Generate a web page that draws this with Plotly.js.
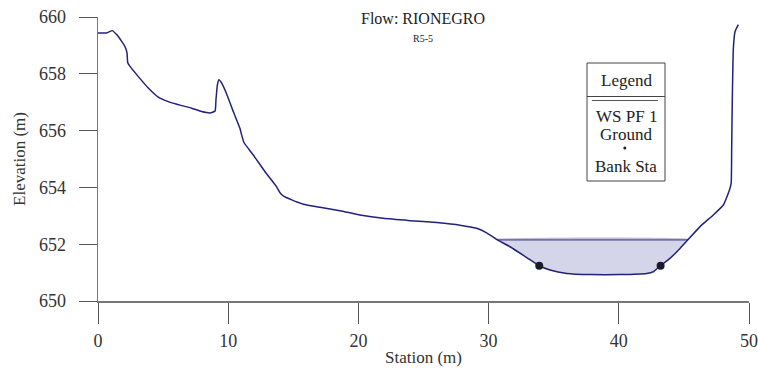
<!DOCTYPE html>
<html>
<head>
<meta charset="utf-8">
<script src="https://cdn.plot.ly/plotly-3.0.1.min.js"></script>
<style>html,body{margin:0;padding:0;background:#fff;}#chart{width:758px;height:371px;}</style>
</head>
<body>
<div id="chart"></div>
<script>
// ---- data ----
const groundStation = [0, 0.67, 1.10, 1.43, 1.82, 2.07, 2.23, 2.28, 2.46, 3.10, 3.86, 4.63, 5.40, 6.43, 7.19, 7.96, 8.60, 8.99, 9.06, 9.17, 9.29, 9.50, 9.88, 10.39, 10.90, 11.03, 11.21, 11.93, 12.83, 13.72, 13.98, 14.23, 14.88, 15.77, 17.05, 18.59, 20.12, 21.91, 23.96, 26.01, 27.80, 29.08, 29.85, 30.62, 31.64, 32.93, 33.89, 34.72, 36.00, 37.79, 40.09, 42.14, 42.65, 43.21, 43.93, 44.70, 46.24, 47.26, 48.03, 48.50, 48.63, 48.67, 48.72, 48.80, 48.93, 49.18];
const groundElev = [659.44, 659.44, 659.52, 659.38, 659.14, 658.96, 658.73, 658.40, 658.26, 657.90, 657.50, 657.18, 657.02, 656.88, 656.79, 656.67, 656.62, 656.69, 657.08, 657.61, 657.79, 657.67, 657.29, 656.67, 656.08, 655.85, 655.58, 655.14, 654.55, 654.02, 653.81, 653.70, 653.56, 653.41, 653.30, 653.18, 653.03, 652.91, 652.83, 652.76, 652.67, 652.56, 652.40, 652.17, 651.91, 651.53, 651.24, 651.09, 650.97, 650.93, 650.93, 650.97, 651.03, 651.24, 651.50, 651.85, 652.62, 653.03, 653.38, 653.91, 654.14, 655.38, 657.14, 658.91, 659.49, 659.73];
const wsElev = 652.16;              // WS PF 1
const bankStation = [33.89, 43.21];
const bankElev = [651.24, 651.24];
const xTicks = [0, 10, 20, 30, 40, 50];
const yTicks = [650, 652, 654, 656, 658, 660];
const legendLabels = ["WS PF 1", "Ground", "Bank Sta"];
const titleText = "Flow: RIONEGRO";
const subtitleText = "R5-5";

// ---- water polygon (ground below WS, closed by WS line) ----
const polyX = [], polyY = [];
for (let i = 0; i < groundStation.length - 1; i++) {
  const x0 = groundStation[i], y0 = groundElev[i], x1 = groundStation[i+1], y1 = groundElev[i+1];
  if (y0 <= wsElev) { polyX.push(x0); polyY.push(y0); }
  if ((y0 - wsElev) * (y1 - wsElev) < 0) {
    const t = (wsElev - y0) / (y1 - y0);
    polyX.push(x0 + t * (x1 - x0)); polyY.push(wsElev);
  }
}
const wsX = [polyX[0], polyX[polyX.length - 1]];
const wsY = [wsElev, wsElev];
polyX.push(polyX[0]); polyY.push(polyY[0]);

const navy = '#22227a';
const traces = [
  {x: polyX, y: polyY, mode: 'lines', fill: 'toself', fillcolor: '#d5d5e9', line: {width: 0, shape: 'spline', smoothing: 0.4}, hoverinfo: 'skip', showlegend: false},
  {x: wsX, y: wsY, mode: 'lines', line: {color: '#7474aa', width: 2}, name: legendLabels[0], showlegend: false},
  {x: groundStation, y: groundElev, mode: 'lines', line: {color: navy, width: 1.5, shape: 'spline', smoothing: 0.4}, name: legendLabels[1], showlegend: false},
  {x: bankStation, y: bankElev, mode: 'markers', marker: {color: '#1a1a2a', size: 8}, name: legendLabels[2], showlegend: false}
];

// pixel -> paper helpers for the hand-drawn legend box and titles
const L = 98, R = 9, T = 17, B = 70, W = 758, H = 371;
const pw = W - L - R, ph = H - T - B;
const px = x => (x - L) / pw;
const py = y => (H - B - y) / ph;
const font = 'Liberation Serif, DejaVu Serif, serif';

const shapes = [
  {type: 'rect', xref: 'paper', yref: 'paper', x0: px(587), x1: px(665), y0: py(63), y1: py(181), line: {color: '#444', width: 1}, fillcolor: '#fff', layer: 'above'},
  {type: 'line', xref: 'paper', yref: 'paper', x0: px(587), x1: px(665), y0: py(96.5), y1: py(96.5), line: {color: '#444', width: 1}},
  {type: 'line', xref: 'paper', yref: 'paper', x0: px(592), x1: px(658), y0: py(100.5), y1: py(100.5), line: {color: '#555', width: 1}},
  {type: 'circle', xref: 'paper', yref: 'paper', x0: px(623.3), x1: px(626.3), y0: py(146.5), y1: py(149.5), line: {color: '#1a1a2a', width: 0}, fillcolor: '#1a1a2a'}
];
const ann = (text, x, y, size) => ({text, xref: 'paper', yref: 'paper', x: px(x), y: py(y), xanchor: 'center', yanchor: 'middle', showarrow: false, font: {family: font, size, color: '#222'}});
const annotations = [
  ann(titleText, 423, 18, 16),
  ann(subtitleText, 423, 38, 10),
  ann('Legend', 626, 80, 17),
  ann(legendLabels[0], 626, 116, 17),
  ann(legendLabels[1], 626, 134, 17),
  ann(legendLabels[2], 626, 166, 17)
];

const layout = {
  width: W, height: H,
  margin: {l: L, r: R, t: T, b: B},
  paper_bgcolor: '#fff', plot_bgcolor: '#fff',
  font: {family: font, color: '#333', size: 18},
  xaxis: {range: [0, 50], tickvals: xTicks, ticktext: xTicks.map(String), showgrid: false, zeroline: false, showline: true, linecolor: '#777', linewidth: 1.5, ticks: 'outside', ticklen: 21, tickcolor: '#555', tickwidth: 1, ticklabelstandoff: 2, tickfont: {family: font, size: 18, color: '#333'}, title: {text: 'Station (m)', font: {family: font, size: 17, color: '#333'}, standoff: 1}},
  yaxis: {range: [650, 660], tickvals: yTicks, ticktext: yTicks.map(String), showgrid: false, zeroline: false, showline: true, linecolor: '#777', linewidth: 1.5, ticks: 'outside', ticklen: 18, tickcolor: '#555', tickwidth: 1, ticklabelstandoff: 9, tickfont: {family: font, size: 18, color: '#333'}, title: {text: 'Elevation (m)', font: {family: font, size: 17, color: '#333'}, standoff: 9}},
  shapes, annotations,
  showlegend: false
};

Plotly.newPlot('chart', traces, layout, {displayModeBar: false, staticPlot: true});
</script>
</body>
</html>
